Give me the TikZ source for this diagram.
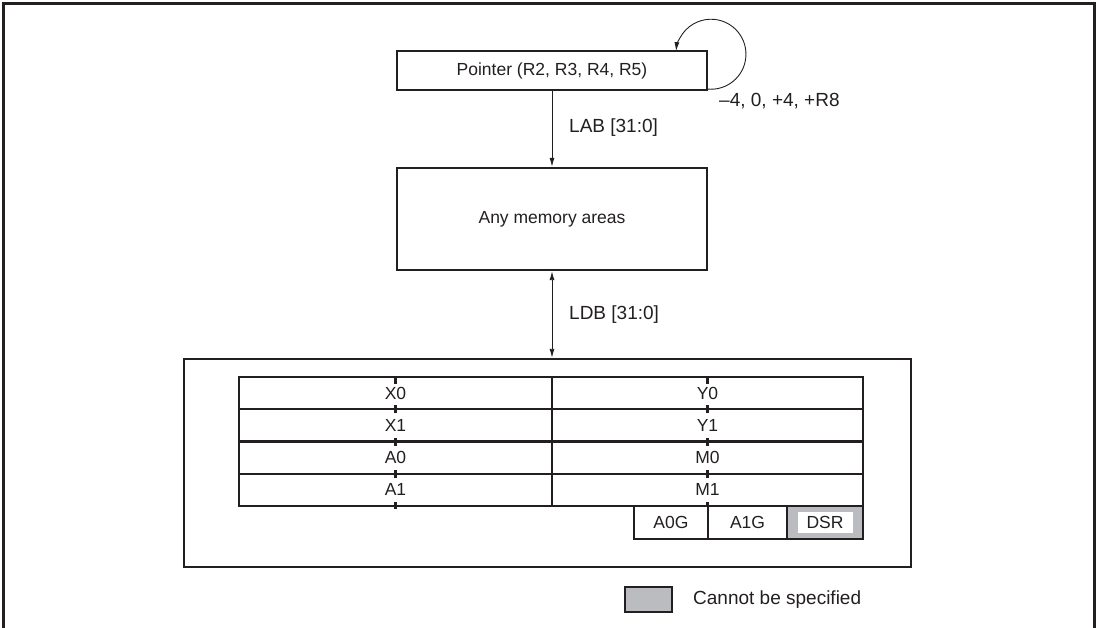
\documentclass[tikz,border=0pt]{standalone}
\usepackage{fontspec}
\setmainfont{Liberation Sans}
\usetikzlibrary{arrows.meta}
\definecolor{ink}{HTML}{231F20}
\definecolor{shade}{HTML}{BBBCC0}
\begin{document}
\begin{tikzpicture}[x=1pt,y=-1pt,
  every node/.style={font=\fontsize{17.5}{20}\selectfont, text=ink},
  box/.style={draw=ink, line width=2.4pt, rectangle, inner sep=0pt},
  cell/.style={draw=ink, line width=2.4pt, rectangle, inner sep=0pt, minimum height=32.25pt},
  tick/.style={draw=ink, line width=2.4pt},
  conn/.style={draw=ink, line width=0.9pt},
  tip/.style={-{Latex[length=9pt,width=5pt]}},
  lbl/.style={anchor=west, inner sep=0pt, font=\fontsize{19}{22}\selectfont}]
\useasboundingbox (0,0) rectangle (1100,628);
% outer frame (open at the bottom)
\draw[ink, line width=3pt] (3,630) -- (3,4) -- (1094,4) -- (1094,630);

% pointer and memory
\node[box, minimum width=310pt, minimum height=39pt] (ptr) at (552,70.5) {Pointer (R2, R3, R4, R5)};
\node[box, minimum width=310pt, minimum height=102pt] (mem) at (552,219) {Any memory areas};
\node[box, minimum width=727pt, minimum height=208pt] (big) at (547.5,463) {};

% self loop
\coordinate (loopstart) at (707,89);
\draw[conn, tip] (loopstart) arc[start angle=96.5, end angle=-175, radius=35];
\node[lbl] (inc) at (719,101) {\textendash4, 0, +4, +R8};

% buses
\draw[conn, tip] (ptr.south) -- (mem.north);
\node[lbl] (lab) at (569,128) {LAB [31:0]};
\draw[conn, {Latex[length=9pt,width=5pt]}-{Latex[length=9pt,width=5pt]}] (mem.south) -- (mem.south |- big.north);
\node[lbl] (ldb) at (569,315) {LDB [31:0]};

% register table
\foreach \t/\u [count=\i from 0] in {X0/Y0, X1/Y1, A0/M0, A1/M1}{
  \node[cell, minimum width=313pt] (l\i) at (395.5,{393.125+32.25*\i}) {\t};
  \node[cell, minimum width=311pt] (r\i) at (707.5,{393.125+32.25*\i}) {\u};
}
\node[cell, minimum width=74pt, minimum height=33pt] (a0g) at (671,522.5) {A0G};
\node[cell, minimum width=79pt, minimum height=33pt] (a1g) at (747.5,522.5) {A1G};
\node[cell, fill=shade, minimum width=76pt, minimum height=33pt] (dsr) at (825,522.5) {};
\node[fill=white, inner sep=0pt, minimum width=55pt, minimum height=21pt] (dsrt) at (dsr.center) {DSR};

% tick marks on column centres
\foreach \x in {395.5,707.5}{
  \draw[tick] (\x,377) -- (\x,384);
  \foreach \y in {409.25,441.5,473.75}{
    \draw[tick] (\x,\y-4) -- (\x,\y+4);
  }
}
\draw[tick] (395.5,502) -- (395.5,509);
\draw[tick] (707.5,502) -- (707.5,506);

% legend
\node[box, fill=shade, minimum width=47pt, minimum height=25pt] (leg) at (648.5,599.5) {};
\node[lbl] (legt) at (693,600) {Cannot be specified};
\end{tikzpicture}
\end{document}
